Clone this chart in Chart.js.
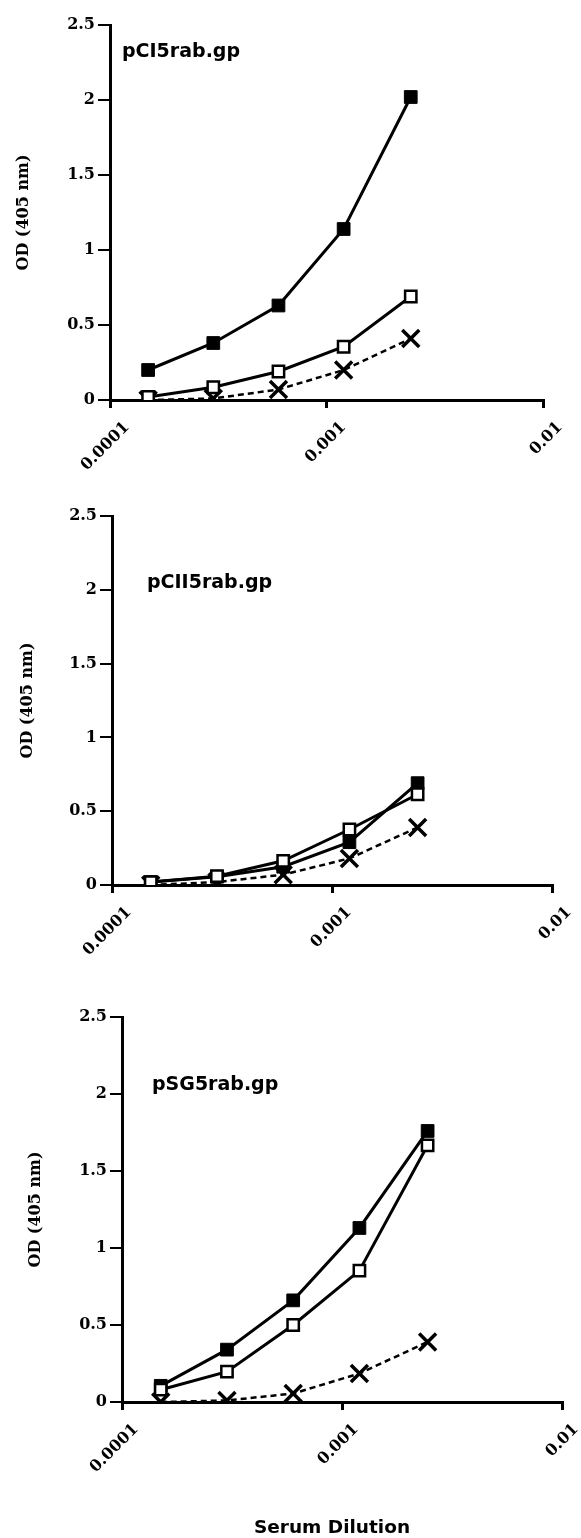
<!DOCTYPE html>
<html>
<head>
<meta charset="utf-8">
<script src="https://cdn.jsdelivr.net/npm/chart.js@4.4.1/dist/chart.umd.min.js"></script>
<style>
html,body{margin:0;padding:0;background:#fff;}
#wrap{position:relative;width:581px;height:1538px;overflow:hidden;background:#fff;}
canvas{position:absolute;left:0;}
</style>
</head>
<body>
<div id="wrap">
<canvas id="c1" width="581" height="490" style="top:0px"></canvas>
<canvas id="c2" width="581" height="490" style="top:490px"></canvas>
<canvas id="c3" width="581" height="558" style="top:980px"></canvas>
</div>
<script>
// ---- data ----
const dilutions = [0.00015, 0.0003, 0.0006, 0.0012, 0.00245];
const xTickValues = [0.0001, 0.001, 0.01];
const xTickLabels = ['0.0001', '0.001', '0.01'];
const yTickValues = [0, 0.5, 1, 1.5, 2, 2.5];
const yTickLabels = ['0', '0.5', '1', '1.5', '2', '2.5'];
const panelNames = ['pCI5rab.gp', 'pCII5rab.gp', 'pSG5rab.gp'];
const yAxisTitle = 'OD (405 nm)';
const xAxisTitle = 'Serum Dilution';

const p1Filled = [0.20, 0.38, 0.63, 1.14, 2.02];
const p1Open   = [0.02, 0.085, 0.19, 0.355, 0.69];
const p1Cross  = [0.00, 0.01, 0.07, 0.20, 0.41];

const p2Filled = [0.02, 0.056, 0.124, 0.29, 0.69];
const p2Open   = [0.02, 0.06, 0.164, 0.376, 0.615];
const p2Cross  = [0.00, 0.02, 0.07, 0.18, 0.39];

const p3Filled = [0.105, 0.34, 0.66, 1.13, 1.76];
const p3Open   = [0.08, 0.197, 0.50, 0.853, 1.667];
const p3Cross  = [0.00, 0.01, 0.055, 0.185, 0.39];

// ---- helpers ----
function pts(vals){ return dilutions.map((d,i)=>({x:d, y:vals[i]})); }

const textPlugin = {
  id: 'panelText',
  afterDraw(chart, args, opts){
    const ctx = chart.ctx;
    ctx.save();
    ctx.fillStyle = '#000';
    ctx.textBaseline = 'alphabetic';
    (opts.items || []).forEach(it => {
      ctx.font = it.font;
      ctx.textAlign = it.align || 'left';
      ctx.fillText(it.text, chart.chartArea.left + it.dx, chart.chartArea.top + it.dy);
    });
    ctx.restore();
  }
};

const sansBold = "bold 19px 'DejaVu Sans', 'Liberation Sans', sans-serif";

function makeChart(id, cfg){
  const serifTick = {family: "'DejaVu Serif', 'Liberation Serif', serif", size: 16, weight: 'bold'};
  const datasets = [
    {label:'open', data: pts(cfg.open), borderColor:'#000', borderWidth:3, backgroundColor:'#fff',
     pointStyle:'rect', pointRadius:8, pointBorderWidth:2.5, pointBackgroundColor:'#fff', pointBorderColor:'#000', tension:0, fill:false},
    {label:'filled', data: pts(cfg.filled), borderColor:'#000', borderWidth:3, backgroundColor:'#000',
     pointStyle:'rect', pointRadius:9, pointBorderWidth:1, pointBackgroundColor:'#000', pointBorderColor:'#000', tension:0, fill:false},
    {label:'cross', data: pts(cfg.cross), borderColor:'#000', borderWidth:2.5, borderDash:[6,4],
     pointStyle:'crossRot', pointRadius:12, pointBorderWidth:3.5, pointBorderColor:'#000', pointBackgroundColor:'#000', tension:0, fill:false}
  ];
  const items = [{text: cfg.name, font: sansBold, dx: cfg.lx, dy: cfg.ly}];
  if (cfg.xTitle) items.push({text: xAxisTitle, font: "bold 18.5px 'DejaVu Sans', 'Liberation Sans', sans-serif",
                              dx: cfg.xTitle.dx, dy: cfg.xTitle.dy, align: 'center'});
  return new Chart(document.getElementById(id), {
    type: 'line',
    data: { datasets },
    plugins: [textPlugin],
    options: {
      responsive: false,
      animation: false,
      events: [],
      layout: { padding: { left: 0, top: cfg.padTop, right: cfg.padRight, bottom: 0 } },
      plugins: {
        legend: { display: false },
        tooltip: { enabled: false },
        panelText: { items }
      },
      scales: {
        x: {
          type: 'logarithmic',
          min: xTickValues[0], max: xTickValues[xTickValues.length-1],
          afterBuildTicks: (s) => { s.ticks = xTickValues.map(v => ({value: v})); },
          afterFit: (s) => { s.height = cfg.xHeight; s.paddingRight = 0; s.paddingLeft = 0; },
          border: { display: true, color: '#000', width: 3 },
          grid: { display: true, drawOnChartArea: false, drawTicks: true, tickLength: 8, color: '#000', lineWidth: 3 },
          ticks: {
            autoSkip: false, minRotation: 45, maxRotation: 45, padding: 10, labelOffset: cfg.labelOffset,
            color: '#000', font: serifTick,
            callback: (v, i) => xTickLabels[i]
          },
          title: { display: false }
        },
        y: {
          type: 'linear', min: 0, max: 2.5,
          afterBuildTicks: (s) => { s.ticks = yTickValues.map(v => ({value: v})); },
          afterFit: (s) => { s.width = cfg.yWidth; },
          border: { display: true, color: '#000', width: 3 },
          grid: { display: true, drawOnChartArea: false, drawTicks: true, tickLength: 12, color: '#000', lineWidth: 2 },
          ticks: { color: '#000', font: serifTick, padding: 3, callback: (v, i) => yTickLabels[i] },
          title: { display: true, text: yAxisTitle, color: '#000',
                   font: {family: "'DejaVu Serif', 'Liberation Serif', serif", size: 16, weight: 'bold'},
                   padding: {top: cfg.yTitlePad, bottom: 0} }
        }
      }
    }
  });
}

makeChart('c1', { name: panelNames[0], filled: p1Filled, open: p1Open, cross: p1Cross,
  padTop: 25, padRight: 38, xHeight: 90, yWidth: 110, lx: 12, ly: 32, yTitlePad: 14, labelOffset: 17 });
makeChart('c2', { name: panelNames[1], filled: p2Filled, open: p2Open, cross: p2Cross,
  padTop: 26, padRight: 29, xHeight: 95, yWidth: 112, lx: 35, ly: 72, yTitlePad: 18, labelOffset: 17 });
makeChart('c3', { name: panelNames[2], filled: p3Filled, open: p3Open, cross: p3Cross,
  padTop: 37, padRight: 19, xHeight: 136, yWidth: 122, lx: 30, ly: 73, yTitlePad: 26, labelOffset: 14,
  xTitle: { dx: 210, dy: 516 } });
</script>
</body>
</html>
